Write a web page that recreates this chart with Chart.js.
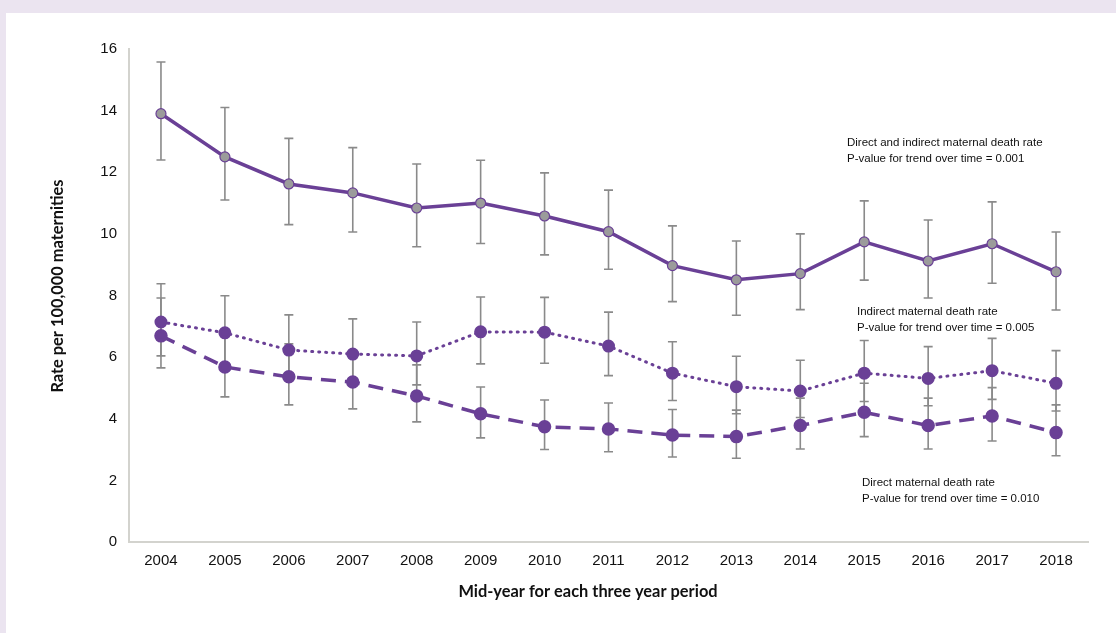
<!DOCTYPE html>
<html>
<head>
<meta charset="utf-8">
<script src="https://cdn.jsdelivr.net/npm/chart.js@4.4.1/dist/chart.umd.min.js"></script>
<style>
  html, body { margin: 0; padding: 0; background: #ebe4f0; }
  #panel { position: absolute; left: 6px; top: 13px; width: 1110px; height: 620px; background: #fff; }
  canvas { display: block; }
</style>
</head>
<body>
<div id="panel"><canvas id="rateChart" width="1110" height="620"></canvas></div>
<script>
// Mid-year of each three year period
const years = ['2004', '2005', '2006', '2007', '2008', '2009', '2010', '2011', '2012', '2013', '2014', '2015', '2016', '2017', '2018'];

// Direct and indirect maternal death rate, with 95% CI
const totalRate = [13.9, 12.5, 11.62, 11.33, 10.84, 11.0, 10.58, 10.07, 8.97, 8.51, 8.71, 9.74, 9.12, 9.68, 8.77];
const totalLow  = [12.4, 11.1, 10.3, 10.06, 9.58, 9.69, 9.32, 8.85, 7.8, 7.36, 7.54, 8.5, 7.92, 8.4, 7.53];
const totalHigh = [15.58, 14.1, 13.1, 12.8, 12.27, 12.39, 11.98, 11.42, 10.26, 9.77, 10.0, 11.07, 10.45, 11.04, 10.06];

// Indirect maternal death rate
const indirectRate = [7.14, 6.79, 6.23, 6.1, 6.04, 6.82, 6.81, 6.36, 5.48, 5.04, 4.9, 5.48, 5.31, 5.56, 5.15];
const indirectLow  = [6.04, 5.75, 5.25, 5.1, 5.1, 5.78, 5.8, 5.4, 4.59, 4.16, 4.04, 4.56, 4.42, 4.63, 4.25];
const indirectHigh = [8.38, 7.99, 7.37, 7.24, 7.14, 7.95, 7.94, 7.46, 6.5, 6.03, 5.9, 6.54, 6.34, 6.61, 6.21];

// Direct maternal death rate
const directRate = [6.69, 5.68, 5.36, 5.19, 4.74, 4.16, 3.74, 3.67, 3.47, 3.42, 3.78, 4.21, 3.78, 4.09, 3.55];
const directLow  = [5.65, 4.71, 4.45, 4.32, 3.9, 3.38, 3.0, 2.93, 2.76, 2.72, 3.02, 3.42, 3.02, 3.28, 2.8];
const directHigh = [7.92, 6.7, 6.43, 6.1, 5.75, 5.03, 4.61, 4.51, 4.3, 4.28, 4.67, 5.15, 4.67, 5.01, 4.45];

const yTicks = [0, 2, 4, 6, 8, 10, 12, 14, 16];

const purple = '#6a4096';
const barGrey = '#8a8a8a';

// draw CI whiskers behind the lines
const errorBars = {
    id: 'errorBars',
    beforeDatasetsDraw(chart) {
        const ctx = chart.ctx;
        const x = chart.scales.x, y = chart.scales.y;
        const sets = [[totalLow, totalHigh], [indirectLow, indirectHigh], [directLow, directHigh]];
        ctx.save();
        ctx.strokeStyle = barGrey;
        ctx.lineWidth = 1.6;
        sets.forEach(([lo, hi]) => {
            lo.forEach((v, i) => {
                const px = x.getPixelForValue(i);
                const y1 = y.getPixelForValue(v), y2 = y.getPixelForValue(hi[i]);
                ctx.beginPath();
                ctx.moveTo(px, y1); ctx.lineTo(px, y2);
                ctx.moveTo(px - 4.5, y1); ctx.lineTo(px + 4.5, y1);
                ctx.moveTo(px - 4.5, y2); ctx.lineTo(px + 4.5, y2);
                ctx.stroke();
            });
        });
        ctx.restore();
    }
};

// axis titles (off-centre in the original) and the series notes with p-values
const notes = {
    id: 'notes',
    afterDraw(chart, args, opts) {
        const ctx = chart.ctx;
        ctx.save();
        ctx.fillStyle = '#111';
        ctx.textBaseline = 'middle';
        ctx.font = opts.font;
        opts.items.forEach(n => {
            n.lines.forEach((t, k) => ctx.fillText(t, n.x, n.y + k * 16));
        });
        ctx.font = opts.titleFont;
        ctx.textAlign = 'center';
        ctx.fillText(opts.xTitle.text, opts.xTitle.x, opts.xTitle.y);
        ctx.translate(opts.yTitle.x, opts.yTitle.y);
        ctx.rotate(-Math.PI / 2);
        ctx.fillText(opts.yTitle.text, 0, 0);
        ctx.restore();
    }
};

new Chart(document.getElementById('rateChart').getContext('2d'), {
    type: 'line',
    data: {
        labels: years,
        datasets: [
            { label: 'Direct and indirect', data: totalRate, borderColor: purple, borderWidth: 3.5,
              pointBackgroundColor: '#9b9b9b', pointBorderColor: purple, pointBorderWidth: 1.2, pointRadius: 5 },
            { label: 'Indirect', data: indirectRate, borderColor: purple, borderWidth: 3, borderDash: [1, 6], borderCapStyle: 'round',
              pointBackgroundColor: purple, pointBorderColor: purple, pointRadius: 5 },
            { label: 'Direct', data: directRate, borderColor: purple, borderWidth: 3.5, borderDash: [15, 9],
              pointBackgroundColor: purple, pointBorderColor: purple, pointRadius: 5 }
        ]
    },
    options: {
        responsive: false,
        animation: false,
        layout: { padding: { top: 36, right: 28, left: 0, bottom: 0 } },
        plugins: {
            legend: { display: false },
            tooltip: { enabled: false },
            notes: {
                font: '11.5px "Liberation Sans", Arial, sans-serif',
                titleFont: 'bold 16.4px Lato, sans-serif',
                xTitle: { text: 'Mid-year for each three year period', x: 582, y: 579 },
                yTitle: { text: 'Rate per 100,000 maternities', x: 52, y: 273 },
                items: [
                    { x: 841, y: 130, lines: ['Direct and indirect maternal death rate', 'P-value for trend over time = 0.001'] },
                    { x: 851, y: 299, lines: ['Indirect maternal death rate', 'P-value for trend over time = 0.005'] },
                    { x: 856, y: 470, lines: ['Direct maternal death rate', 'P-value for trend over time = 0.010'] }
                ]
            }
        },
        scales: {
            x: {
                offset: true,
                grid: { display: false, drawTicks: false },
                border: { color: '#d3d3ce', width: 2 },
                ticks: { color: '#111', padding: 10, font: { family: '"Liberation Sans", Arial', size: 15 }, maxRotation: 0 },
                afterFit(s) { s.height = 91; }
            },
            y: {
                min: 0, max: 16,
                afterBuildTicks(s) { s.ticks = yTicks.map(v => ({ value: v })); },
                grid: { display: false, drawTicks: false },
                border: { color: '#d3d3ce', width: 2 },
                ticks: { color: '#111', padding: 12, font: { family: '"Liberation Sans", Arial', size: 15 } },
                afterFit(s) { s.width = 123; }
            }
        }
    },
    plugins: [errorBars, notes]
});
</script>
</body>
</html>
